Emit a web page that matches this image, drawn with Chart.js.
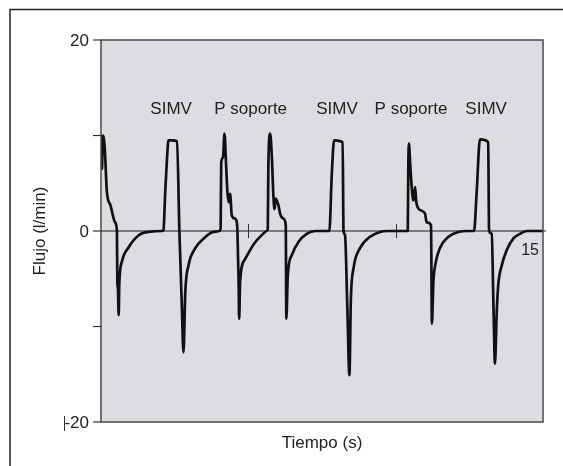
<!DOCTYPE html>
<html>
<head>
<meta charset="utf-8">
<script src="https://cdn.jsdelivr.net/npm/chart.js@4.4.1/dist/chart.umd.min.js"></script>
<style>
    html, body { margin: 0; padding: 0; background: #fff; }
    #flowChart { display: block; }
</style>
</head>
<body>
<canvas id="flowChart" width="563" height="466"></canvas>
<script>
// flow trace, seconds / l/min
const times = [
    0.00, 0.02, 0.035, 0.05, 0.07, 0.10, 0.13, 0.20, 0.32, 0.48, 0.54, 0.555, 0.575, 0.60, 0.62, 0.71, 0.94, 1.28, 1.61, 2.07,
    2.12, 2.18, 2.24, 2.29, 2.40, 2.58, 2.66, 2.74, 2.80, 2.86, 2.97, 3.20, 3.48, 3.82, 4.02,
    4.06, 4.08, 4.14, 4.19, 4.25, 4.29, 4.34, 4.38, 4.44, 4.55, 4.61, 4.63, 4.67, 4.69, 4.72, 4.88, 5.20, 5.50, 5.62,
    5.66, 5.68, 5.74, 5.80, 5.85, 5.89, 5.93, 6.02, 6.08, 6.19, 6.27, 6.29, 6.34, 6.48, 6.70, 6.98, 7.27,
    7.75, 7.83, 7.91, 8.20, 8.23, 8.28, 8.36, 8.43, 8.48, 8.57, 8.79, 9.13, 9.47, 9.70,
    10.41, 10.43, 10.45, 10.49, 10.54, 10.60, 10.66, 10.70, 10.83, 11.00, 11.05, 11.20, 11.23, 11.28, 11.34, 11.50, 11.79, 12.13, 12.41,
    12.66, 12.75, 12.86, 13.14, 13.17, 13.26, 13.32, 13.37, 13.43, 13.48, 13.60, 13.77, 13.99, 14.22, 14.45, 15.00
];
const flow = [
    10.0, 9.0, 6.5, 9.5, 10.0, 9.6, 8.5, 4.1, 2.7, 0.9, 0.0, -5.3, -6.0, -8.8, -5.6, -3.2, -1.7, -0.45, -0.1, 0.0,
    0.1, 4.1, 7.6, 9.5, 9.5, 9.4, 0.0, -7.5, -12.7, -6.4, -3.6, -1.8, -0.8, -0.1, 0.0,
    0.3, 7.2, 7.7, 10.2, 6.6, 4.1, 3.0, 3.9, 1.6, 1.3, 0.9, 0.0, -5.3, -9.2, -5.3, -3.0, -1.3, -0.3, 0.0,
    0.2, 6.9, 10.2, 7.6, 3.7, 2.3, 3.4, 2.7, 1.8, 1.3, 0.6, -9.2, -4.6, -2.5, -1.15, -0.3, 0.0,
    0.0, 5.8, 9.5, 9.3, 0.0, -0.4, -8.0, -15.1, -7.1, -3.9, -1.8, -0.6, -0.1, 0.0,
    0.0, 7.0, 9.15, 7.2, 4.8, 3.2, 4.6, 3.0, 2.2, 1.8, 0.9, 0.6, -9.7, -5.3, -3.6, -1.8, -0.6, -0.1, 0.0,
    0.0, 4.1, 9.6, 9.3, 0.0, -0.3, -8.0, -13.9, -8.5, -5.7, -3.6, -2.0, -0.8, -0.3, 0.0, 0.0
];

const modes = ['SIMV', 'P soporte', 'SIMV', 'P soporte', 'SIMV'];
const modeTimes = [2.38, 5.08, 8.01, 10.52, 13.07];
const modeLevel = 12.75;

const yTicks = [20, 10, 0, -10, -20];
const yLabels = ['20', '0', '-20'];
const xMarks = [5, 10];
const xEndLabel = '15';

const yTitle = 'Flujo (l/min)';
const xTitle = 'Tiempo (s)';

document.addEventListener('DOMContentLoaded', () => {
    const font = (size) => size + 'px "Liberation Sans", Arial, sans-serif';

    const decorations = {
        id: 'decorations',
        beforeDraw(chart) {
            const { ctx, chartArea: a } = chart;
            ctx.save();
            ctx.fillStyle = '#fff';
            ctx.fillRect(0, 0, chart.width, chart.height);

            // outer frame (top + left only visible)
            ctx.strokeStyle = '#222';
            ctx.lineWidth = 1.5;
            ctx.beginPath();
            ctx.moveTo(10, chart.height);
            ctx.lineTo(10, 9.5);
            ctx.lineTo(chart.width, 9.5);
            ctx.stroke();

            ctx.fillStyle = '#dcdde0';
            ctx.fillRect(a.left, a.top, a.right - a.left, a.bottom - a.top);
            ctx.restore();
        },
        beforeDatasetsDraw(chart) {
            const { ctx, chartArea: a, scales: { x, y } } = chart;
            const y0 = y.getPixelForValue(0);
            ctx.save();
            ctx.strokeStyle = '#1a1a1a';
            ctx.lineWidth = 1.2;
            ctx.beginPath();
            ctx.moveTo(a.left, y0);
            ctx.lineTo(a.right + 3, y0);
            ctx.stroke();

            ctx.strokeStyle = '#333';
            ctx.lineWidth = 1;
            xMarks.forEach(t => {
                const px = Math.round(x.getPixelForValue(t)) + 0.5;
                ctx.beginPath();
                ctx.moveTo(px, y0 - 7);
                ctx.lineTo(px, y0 + 7);
                ctx.stroke();
            });
            ctx.restore();
        },
        afterDraw(chart) {
            const { ctx, chartArea: a, scales: { x, y } } = chart;
            const y0 = y.getPixelForValue(0);
            ctx.save();

            ctx.strokeStyle = '#4a4a4a';
            ctx.lineWidth = 1.5;
            ctx.strokeRect(a.left, a.top, a.right - a.left, a.bottom - a.top);

            ctx.strokeStyle = '#333';
            ctx.lineWidth = 1.2;
            yTicks.forEach(v => {
                const py = y.getPixelForValue(v);
                ctx.beginPath();
                ctx.moveTo(a.left - 8, py);
                ctx.lineTo(a.left, py);
                ctx.stroke();
            });

            ctx.fillStyle = '#222';
            ctx.font = font(17);
            ctx.textAlign = 'right';
            ctx.textBaseline = 'middle';
            yLabels.forEach(l => {
                ctx.fillText(l, a.left - 12, y.getPixelForValue(parseFloat(l)) + 1);
            });
            // odd bar in front of -20
            ctx.lineWidth = 1;
            ctx.beginPath();
            ctx.moveTo(64.5, y.getPixelForValue(-20) - 6);
            ctx.lineTo(64.5, y.getPixelForValue(-20) + 9);
            ctx.stroke();

            ctx.font = font(16);
            ctx.fillText(xEndLabel, x.getPixelForValue(15) - 4, y0 + 20);

            ctx.font = font(17);
            ctx.textAlign = 'center';
            modes.forEach((m, i) => {
                ctx.fillText(m, x.getPixelForValue(modeTimes[i]), y.getPixelForValue(modeLevel));
            });

            ctx.fillText(xTitle, (a.left + a.right) / 2, 443);

            ctx.translate(40, (a.top + a.bottom) / 2);
            ctx.rotate(-Math.PI / 2);
            ctx.fillText(yTitle, 0, 0);
            ctx.restore();
        }
    };

    const ctx = document.getElementById('flowChart').getContext('2d');
    new Chart(ctx, {
        type: 'line',
        data: {
            datasets: [{
                data: times.map((t, i) => ({ x: t, y: flow[i] })),
                borderColor: '#111',
                borderWidth: 2.7,
                pointRadius: 0,
                cubicInterpolationMode: 'monotone',
                borderJoinStyle: 'round',
                borderCapStyle: 'round',
                fill: false
            }]
        },
        options: {
            responsive: false,
            animation: false,
            layout: { padding: { left: 101, top: 40, right: 20, bottom: 44 } },
            scales: {
                x: { type: 'linear', min: 0, max: 15, display: false },
                y: { min: -20, max: 20, display: false }
            },
            plugins: {
                legend: { display: false },
                tooltip: { enabled: false }
            }
        },
        plugins: [decorations]
    });
});
</script>
</body>
</html>
